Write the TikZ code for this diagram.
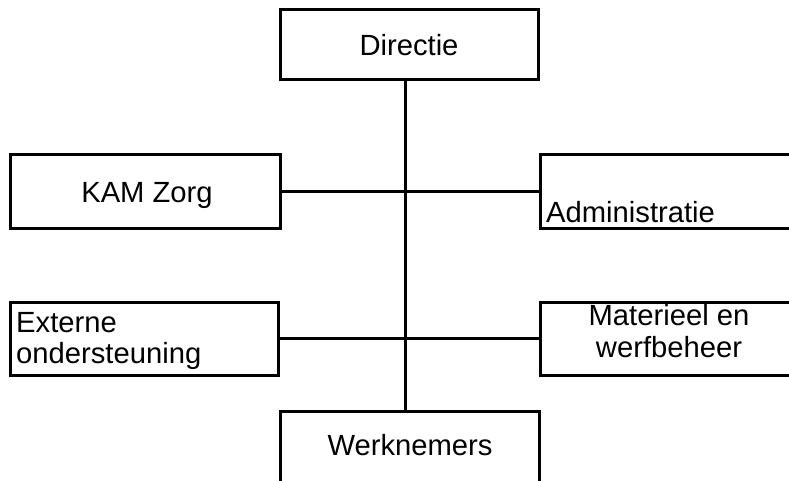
\documentclass[tikz,border=0pt]{standalone}
\usepackage{fontspec}
\setmainfont{Liberation Sans}
\begin{document}
\begin{tikzpicture}[x=1pt,y=-1pt,
  box/.style={draw=black,line width=3pt,rectangle,inner sep=0pt},
  lbl/.style={inner sep=0pt,font=\fontsize{29.2}{31.5}\selectfont},
  conn/.style={draw=black,line width=3pt}]
\useasboundingbox[fill=white] (0,0) rectangle (789,481);
% boxes
\node[box,minimum width=258pt,minimum height=70pt] (dir) at (409,45) {};
\node[box,minimum width=270pt,minimum height=73pt] (kam) at (145,191.5) {};
\node[box,minimum width=260pt,minimum height=73pt] (adm) at (670,191.5) {};
\node[box,minimum width=268pt,minimum height=73pt] (ext) at (144,338.5) {};
\node[box,minimum width=260pt,minimum height=73pt] (mat) at (670,338.5) {};
\node[box,minimum width=259pt,minimum height=100pt] (wer) at (409.5,461) {};
% texts
\node[lbl,anchor=base] (tdir) at (409,56) {Directie};
\node[lbl,anchor=base] (tkam) at (147,202.5) {KAM Zorg};
\node[lbl,anchor=base west] (tadm) at (546,222.5) {Administratie};
\node[lbl,anchor=base west] (text1) at (16,332.5) {Externe};
\node[lbl,anchor=base west] (text2) at (16,363.5) {ondersteuning};
\node[lbl,anchor=base] (tmat1) at (669,325.5) {Materieel en};
\node[lbl,anchor=base] (tmat2) at (669,357.5) {werfbeheer};
\node[lbl,anchor=base] (twer) at (410,455.5) {Werknemers};
% connectors
\coordinate (spine) at (405,0);
\draw[conn] (dir.south -| spine) -- (wer.north -| spine);
\draw[conn] (kam.east) -- (adm.west);
\draw[conn] (ext.east) -- (mat.west);
\end{tikzpicture}
\end{document}
